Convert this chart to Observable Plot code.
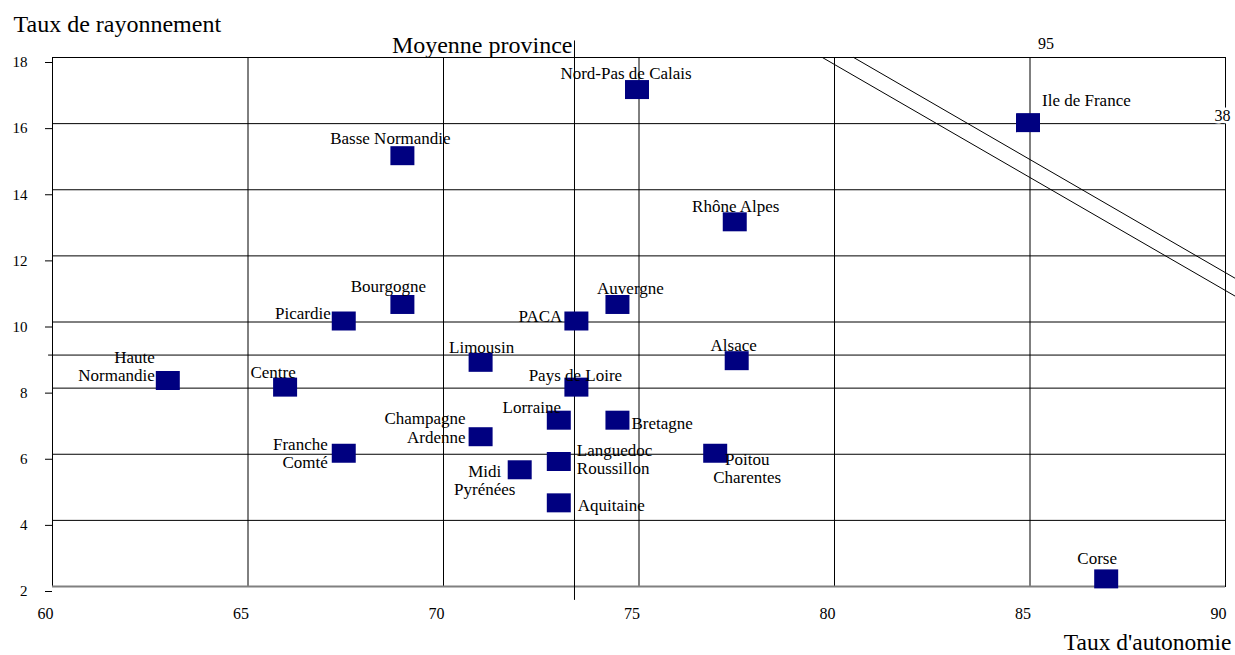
<!DOCTYPE html>
<html><head><meta charset="utf-8">
<script src="https://cdn.jsdelivr.net/npm/d3@7"></script>
<script src="https://cdn.jsdelivr.net/npm/@observablehq/plot@0.6"></script>
<style>
body{margin:0;background:#fff}
svg{font-family:"Liberation Serif","Times New Roman",serif}
</style>
</head><body><div id="chart"></div>
<script>
// ---- data ----
const regions = ["Nord-Pas de Calais","Basse Normandie","Ile de France","Rhône Alpes","Bourgogne","Picardie","Auvergne","PACA","Limousin","Alsace","Haute\nNormandie","Centre","Pays de Loire","Lorraine","Bretagne","Champagne\nArdenne","Franche\nComté","Languedoc\nRoussillon","Midi\nPyrénées","Poitou\nCharentes","Aquitaine","Corse"];
const autonomie   = [75, 69, 85, 77.5, 69, 67.5, 74.5, 73.45, 71, 77.55, 63, 66, 73.45, 73, 74.5, 71, 67.5, 73, 72, 77, 73, 87];
const rayonnement = [17, 15, 16, 13, 10.5, 10, 10.5, 10, 8.75, 8.8, 8.2, 8, 8, 7, 7, 6.5, 6, 5.75, 5.5, 6, 4.5, 2.2];
const xTicks = [60, 65, 70, 75, 80, 85, 90];
const yTicks = [2, 4, 6, 8, 10, 12, 14, 16, 18];
const moyenneAutonomie = 73.35;
const moyenneRayonnement = 9;
const isoLow  = [{x: 79.69, y: 18}, {x: 90.25, y: 10.78}];
const isoHigh = [{x: 80.49, y: 18}, {x: 90.25, y: 11.32}];
const isoLabels = ["95", "38"];

// ---- label layout (anchor, dx, dy) ----
const labelLayout = [
  ["middle",-13,-17],["middle",-14,-19],["start",12,-23],["middle",-1,-17],["middle",-16,-19],
  ["end",-15,-9],["middle",11,-17],["end",-16,-6],["middle",-1,-16],["middle",-5,-17],
  ["end",-15,-15],["middle",-14,-16],["middle",-3,-13],["middle",-29,-14],["start",12,2],
  ["end",-17,-10],["end",-18,-1],["start",16,-3],["middle",-37,9],["middle",30,14],
  ["start",17,1],["middle",-11,-22]
];

const idx = d3.range(regions.length);
// marker: filled rectangle, drawn slightly up-left of the data point as in the original
const rectSymbol = {draw(ctx){ ctx.moveTo(-14,-10.5); ctx.lineTo(10,-10.5); ctx.lineTo(10,8.5); ctx.lineTo(-14,8.5); ctx.closePath(); }};

const labelMarks = idx.map(i => Plot.text([i], {
  x: d => autonomie[d], y: d => rayonnement[d], text: d => regions[d],
  textAnchor: labelLayout[i][0], dx: labelLayout[i][1], dy: labelLayout[i][2],
  fontSize: 17, lineHeight: 1.07, fill: "#000"
}));

const chart = Plot.plot({
  width: 1235, height: 655,
  marginLeft: 52, marginRight: 10, marginTop: 57, marginBottom: 69,
  x: {domain: [60, 90]},
  y: {domain: [2, 18]},
  style: {fontFamily: "Liberation Serif", fontSize: "15px", background: "#fff", overflow: "visible", color: "#000"},
  marks: [
    Plot.ruleX(xTicks.slice(1, -1), {stroke: "#000", strokeWidth: 1}),
    Plot.ruleY(yTicks.slice(1, -1), {stroke: "#000", strokeWidth: 1}),
    Plot.ruleY([moyenneRayonnement], {x1: 59.9, x2: 90, stroke: "#000", strokeWidth: 1}),
    Plot.frame({stroke: "#000", strokeWidth: 1}),
    Plot.ruleY([2], {stroke: "#808080", strokeWidth: 2}),
    Plot.ruleX([moyenneAutonomie], {y1: 1.58, y2: 18.5, stroke: "#000", strokeWidth: 1}),
    Plot.line(isoLow, {x: "x", y: "y", stroke: "#000", strokeWidth: 1}),
    Plot.line(isoHigh, {x: "x", y: "y", stroke: "#000", strokeWidth: 1}),
    Plot.axisY(yTicks, {tickSize: 7, tickPadding: 18, fontSize: 15, dy: 5, label: null}),
    Plot.axisX(xTicks, {tickSize: 0, tickPadding: 21, fontSize: 16, dx: -7, label: null}),
    Plot.dot(idx, {x: d => autonomie[d], y: d => rayonnement[d], symbol: rectSymbol, fill: "#000080", stroke: "none"}),
    ...labelMarks,
    Plot.text([moyenneAutonomie], {x: d => d, y: 18, text: ["Moyenne province"], textAnchor: "end", dx: -2, dy: -12, fontSize: 24}),
    Plot.text([isoLabels[0]], {x: 85, y: 18, text: d => d, dx: 16, dy: -14, fontSize: 16}),
    Plot.text([isoLabels[1]], {x: 90, y: 16, text: d => d, dx: -3, dy: -8, fontSize: 16, stroke: "#fff", strokeWidth: 5, fill: "#000"}),
    Plot.text(["Taux de rayonnement"], {frameAnchor: "top-left", lineAnchor: "middle", text: d => d, textAnchor: "start", dx: -39, dy: -33, fontSize: 24}),
    Plot.text(["Taux d'autonomie"], {frameAnchor: "bottom-right", lineAnchor: "middle", text: d => d, textAnchor: "end", dx: 6, dy: 56, fontSize: 23.5})
  ]
});
document.getElementById("chart").appendChild(chart);
</script>
</body></html>
